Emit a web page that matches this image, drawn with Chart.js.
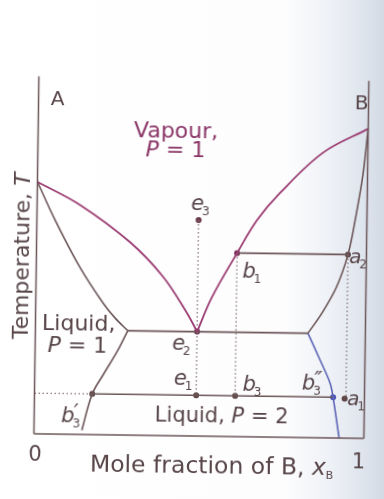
<!DOCTYPE html>
<html>
<head>
<meta charset="utf-8">
<script src="https://cdn.jsdelivr.net/npm/chart.js@4.4.1/dist/chart.umd.min.js"></script>
<style>
  html, body { margin: 0; padding: 0; }
  body {
    width: 384px;
    height: 499px;
    overflow: hidden;
    background: linear-gradient(to right, #ffffff 0px, #fdfdfe 285px, #eef1f6 330px, #e0e6ee 360px, #d2dae5 384px);
  }
  #phase { display: block; transform: rotate(0.8deg); }
</style>
</head>
<body>
<canvas id="phase" width="384" height="499"></canvas>
<script>
// x = mole fraction of B, y = temperature (arbitrary 0..100)
var vapourLeft  = [{x: 0, y: 70}, {x: 0.131, y: 63.7}, {x: 0.283, y: 53.6}, {x: 0.385, y: 44.1}, {x: 0.459, y: 34.1}, {x: 0.49, y: 29}];
var vapourRight = [{x: 0.49, y: 29}, {x: 0.533, y: 38.5}, {x: 0.608, y: 51}, {x: 0.667, y: 60.2}, {x: 0.735, y: 67.8}, {x: 0.864, y: 79.2}, {x: 1, y: 86}];
var liquidLeft  = [{x: 0, y: 70}, {x: 0.055, y: 59.5}, {x: 0.132, y: 46.5}, {x: 0.204, y: 36.6}, {x: 0.242, y: 32.4}, {x: 0.28, y: 29}];
var liquidRight = [{x: 1, y: 86}, {x: 0.986, y: 73.2}, {x: 0.964, y: 60.4}, {x: 0.944, y: 51}, {x: 0.911, y: 42}, {x: 0.868, y: 34.7}, {x: 0.826, y: 29}];
var twoLiqLeft  = [{x: 0.28, y: 29}, {x: 0.251, y: 23.6}, {x: 0.207, y: 16.6}, {x: 0.175, y: 11.3}, {x: 0.145, y: 1.2}];
var twoLiqRight = [{x: 0.826, y: 29}, {x: 0.864, y: 21.6}, {x: 0.895, y: 15.3}, {x: 0.905, y: 11.3}, {x: 0.925, y: 0}];

var eutecticLine = [{x: 0.28, y: 29}, {x: 0.826, y: 29}];
var tieUpper     = [{x: 0.608, y: 51}, {x: 0.944, y: 51}];
var tieLower     = [{x: 0.175, y: 11.3}, {x: 0.905, y: 11.3}];

var dropLines = [
  [{x: 0, y: 11.3}, {x: 0.175, y: 11.3}],
  [{x: 0.49, y: 60}, {x: 0.49, y: 11.3}],
  [{x: 0.608, y: 51}, {x: 0.608, y: 11.3}],
  [{x: 0.944, y: 51}, {x: 0.944, y: 11}]
];

var markedPoints = [
  {x: 0.49, y: 60}, {x: 0.49, y: 29}, {x: 0.49, y: 11.3},
  {x: 0.608, y: 51}, {x: 0.944, y: 51}, {x: 0.608, y: 11.3},
  {x: 0.175, y: 11.3}, {x: 0.905, y: 11.3}, {x: 0.94, y: 11}
];
var pointColours = ['#6a3848', '#6a2f4e', '#5e4646', '#7e3460', '#5e4646', '#5e4646', '#5e4646', '#4a55b8', '#5e4646'];

var axisLeft   = [{x: 0, y: 0}, {x: 0, y: 99.3}];
var axisRight  = [{x: 1, y: 0}, {x: 1, y: 99.3}];
var axisBottom = [{x: 0, y: 0}, {x: 1, y: 0}];

var xTickLabels = ['0', '1'];

var GREY = '#6c5658';
var PURPLE = '#9b3c72';
var BLUE = '#5a63b5';
var INK = '#574548';
var FONT = "'DejaVu Sans', sans-serif";

function curve(data, colour, width) {
  return { data: data, showLine: true, borderColor: colour, borderWidth: width,
           pointRadius: 0, tension: 0.35, fill: false, clip: false };
}
function straight(data, colour, width, dash) {
  return { data: data, showLine: true, borderColor: colour, borderWidth: width,
           borderDash: dash || [], pointRadius: 0, tension: 0, fill: false, clip: false };
}

var datasets = [
  straight(axisLeft, GREY, 1.5),
  straight(axisRight, GREY, 1.5),
  straight(axisBottom, GREY, 1.5),
  curve(vapourLeft, PURPLE, 1.8),
  curve(vapourRight, PURPLE, 1.8),
  curve(liquidLeft, GREY, 1.6),
  curve(liquidRight, GREY, 1.6),
  curve(twoLiqLeft, GREY, 1.6),
  curve(twoLiqRight, BLUE, 1.6),
  straight(eutecticLine, GREY, 1.6),
  straight(tieUpper, GREY, 1.6),
  straight(tieLower, GREY, 1.6)
];
dropLines.forEach(function (d) { datasets.push(straight(d, '#8a7a7c', 1.3, [1.5, 2.5])); });
datasets.push({
  data: markedPoints, showLine: false, pointRadius: 3, pointBorderWidth: 0,
  pointBackgroundColor: pointColours, clip: false
});

// label anchors (in data units): left edge / baseline
var symbolLabels = [
  {base: 'e', sub: '3', x: 0.467, t: 62.8},
  {base: 'b', sub: '1', x: 0.625, t: 44.1},
  {base: 'a', sub: '2', x: 0.948, t: 48.6},
  {base: 'e', sub: '2', x: 0.415, t: 23.8},
  {base: 'e', sub: '1', x: 0.422, t: 14.1},
  {base: 'b', sub: '3', x: 0.63, t: 12.7},
  {base: 'b', sub: '3', prime: '\u2033', x: 0.81, t: 13.2},
  {base: 'a', sub: '1', x: 0.948, t: 9.2},
  {base: 'b', sub: '3', prime: '\u2032', x: 0.082, t: 3.4}
];

var labelPlugin = {
  id: 'phaseLabels',
  afterDatasetsDraw: function (chart) {
    var ctx = chart.ctx;
    var xs = chart.scales.x, ys = chart.scales.y;
    ctx.save();
    ctx.textBaseline = 'alphabetic';

    // draw a row of text pieces, each with its own font
    function runs(parts, x, y, align, colour) {
      ctx.fillStyle = colour;
      var total = 0;
      parts.forEach(function (p) { ctx.font = p.f; p.w = ctx.measureText(p.s).width; total += p.w; });
      var cx = align === 'center' ? x - total / 2 : x;
      ctx.textAlign = 'left';
      parts.forEach(function (p) {
        ctx.font = p.f;
        ctx.fillText(p.s, cx, y + (p.dy || 0));
        cx += p.w;
      });
    }

    var P = function (size) { return 'italic ' + size + 'px ' + FONT; };
    var N = function (size) { return size + 'px ' + FONT; };

    runs([{s: 'A', f: N(20)}], xs.getPixelForValue(0.058), ys.getPixelForValue(91.4), 'center', INK);
    runs([{s: 'B', f: N(20)}], xs.getPixelForValue(0.979), ys.getPixelForValue(91.4), 'center', INK);

    runs([{s: 'Vapour,', f: N(22)}], xs.getPixelForValue(0.418), ys.getPixelForValue(82.7), 'center', '#8a3566');
    runs([{s: 'P', f: P(22)}, {s: ' = 1', f: N(22)}], xs.getPixelForValue(0.417), ys.getPixelForValue(77.4), 'center', '#8a3566');

    runs([{s: 'Liquid,', f: N(22)}], xs.getPixelForValue(0.131), ys.getPixelForValue(29.0), 'center', INK);
    runs([{s: 'P', f: P(22)}, {s: ' = 1', f: N(22)}], xs.getPixelForValue(0.128), ys.getPixelForValue(22.9), 'center', INK);

    runs([{s: 'Liquid, ', f: N(21)}, {s: 'P', f: P(21)}, {s: ' = 2', f: N(21)}],
         xs.getPixelForValue(0.568), ys.getPixelForValue(3.9), 'center', INK);

    symbolLabels.forEach(function (l) {
      var x = xs.getPixelForValue(l.x), y = ys.getPixelForValue(l.t);
      var size = l.base === 'a' ? 20 : 21;
      ctx.fillStyle = INK;
      ctx.textAlign = 'left';
      ctx.font = P(size);
      ctx.fillText(l.base, x, y);
      var w = ctx.measureText(l.base).width;
      ctx.font = N(12);
      ctx.fillText(l.sub, x + w - 2, y + 5);
      if (l.prime) {
        ctx.font = P(21);
        ctx.fillText(l.prime, x + w - 1, y - 3);
      }
    });

    // tick labels at the two ends of the composition axis
    ctx.fillStyle = INK;
    ctx.font = N(21);
    ctx.textAlign = 'center';
    ctx.fillText(xTickLabels[0], xs.getPixelForValue(0.004), ys.getPixelForValue(-7.5));
    ctx.fillText(xTickLabels[1], xs.getPixelForValue(0.985), ys.getPixelForValue(-8.4));

    runs([{s: 'Mole fraction of B, ', f: N(23.5)}, {s: 'x', f: P(23.5)}, {s: 'B', f: N(11), dy: 4}],
         xs.getPixelForValue(0.171), ys.getPixelForValue(-10.4), 'left', INK);

    ctx.save();
    ctx.translate(xs.getPixelForValue(-0.022), ys.getPixelForValue(49.4));
    ctx.rotate(-Math.PI / 2);
    runs([{s: 'Temperature, ', f: N(22)}, {s: 'T', f: P(22)}], 0, 0, 'center', INK);
    ctx.restore();

    ctx.restore();
  }
};

new Chart(document.getElementById('phase').getContext('2d'), {
  type: 'scatter',
  data: { datasets: datasets },
  options: {
    responsive: false,
    animation: false,
    devicePixelRatio: 1,
    layout: { padding: { left: 36.5, right: 17.5, top: 76, bottom: 63 } },
    scales: {
      x: { type: 'linear', min: 0, max: 1, display: false },
      y: { type: 'linear', min: 0, max: 100, display: false }
    },
    plugins: { legend: { display: false }, tooltip: { enabled: false } }
  },
  plugins: [labelPlugin]
});
</script>
</body>
</html>
